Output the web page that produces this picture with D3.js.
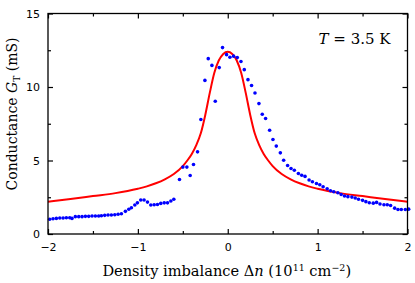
<!DOCTYPE html>
<html>
<head>
<meta charset="utf-8">
<script src="https://cdn.jsdelivr.net/npm/d3@7"></script>
<style>
  body { margin: 0; background: #fff; }
  svg { display: block; }
  .tick text { font-family: "DejaVu Sans", sans-serif; font-size: 11px; fill: #000; }
  .title { font-family: "DejaVu Serif", serif; font-size: 14px; fill: #000; }
</style>
</head>
<body>
<svg id="chart" width="415" height="283"></svg>
<script>
  // measured points (density imbalance, conductance)
  var dataX = [-1.981, -1.944, -1.907, -1.869, -1.832, -1.796, -1.758, -1.733, -1.696, -1.658,
    -1.621, -1.584, -1.547, -1.510, -1.473, -1.436, -1.406, -1.369, -1.332, -1.295,
    -1.257, -1.220, -1.183, -1.139, -1.101, -1.072, -1.034, -1.005, -0.968, -0.931,
    -0.893, -0.856, -0.819, -0.782, -0.745, -0.707, -0.670, -0.633, -0.600, -0.537,
    -0.499, -0.455, -0.418, -0.381, -0.336, -0.299, -0.254, -0.217, -0.176, -0.139,
    -0.095, -0.058, -0.013, 0.024, 0.065, 0.106, 0.147, 0.184, 0.225, 0.265,
    0.303, 0.347, 0.384, 0.421, 0.466, 0.503, 0.540, 0.585, 0.622, 0.666,
    0.704, 0.741, 0.786, 0.823, 0.860, 0.905, 0.942, 0.987, 1.024, 1.061,
    1.106, 1.143, 1.180, 1.225, 1.262, 1.299, 1.337, 1.381, 1.418, 1.455,
    1.500, 1.537, 1.575, 1.619, 1.656, 1.694, 1.738, 1.775, 1.812, 1.857,
    1.894, 1.931, 1.976, 2.013];
  var dataG = [1.00, 1.04, 1.06, 1.09, 1.09, 1.11, 1.11, 1.06, 1.18, 1.18,
    1.18, 1.20, 1.20, 1.22, 1.22, 1.22, 1.24, 1.27, 1.29, 1.29,
    1.31, 1.34, 1.38, 1.54, 1.68, 1.79, 1.97, 2.12, 2.31, 2.31,
    2.17, 1.97, 1.99, 2.01, 2.08, 2.12, 2.12, 2.25, 2.36, 3.71,
    4.55, 4.55, 3.98, 4.73, 5.59, 7.79, 10.45, 11.93, 11.47, 9.03,
    11.32, 12.68, 12.20, 12.02, 12.10, 12.00, 11.73, 11.18, 10.50, 10.10,
    9.59, 8.87, 8.15, 7.86, 7.06, 6.43, 5.98, 5.52, 5.02, 4.66,
    4.46, 4.34, 4.12, 4.00, 3.92, 3.67, 3.55, 3.44, 3.35, 3.21,
    3.08, 2.94, 2.87, 2.81, 2.69, 2.58, 2.54, 2.51, 2.45, 2.36,
    2.29, 2.20, 2.13, 2.10, 2.15, 2.04, 1.99, 1.99, 1.94, 1.76,
    1.67, 1.67, 1.67, 1.69];

  // fit curve
  var fitX = [-2, -1.75, -1.5, -1.25, -1, -0.9, -0.8, -0.7, -0.6, -0.5, -0.45, -0.4, -0.35, -0.3, -0.25,
    -0.2, -0.15, -0.1, -0.05, 0, 0.05, 0.1, 0.15, 0.2, 0.25, 0.3, 0.35, 0.4, 0.45, 0.5,
    0.6, 0.7, 0.8, 0.9, 1, 1.25, 1.5, 1.75, 2];
  var fitG = [2.19, 2.38, 2.58, 2.78, 3.08, 3.24, 3.45, 3.72, 4.08, 4.62, 5.0, 5.45, 6.05, 6.85, 8.1,
    9.6, 10.95, 11.8, 12.25, 12.4, 12.25, 11.8, 10.95, 9.6, 8.1, 6.85, 6.05, 5.45, 5.0, 4.62,
    4.08, 3.72, 3.45, 3.24, 3.08, 2.78, 2.58, 2.38, 2.19];

  var xTicks = [-2, -1, 0, 1, 2];
  var xMinor = [-1.5, -0.5, 0.5, 1.5];
  var yTicks = [0, 5, 10, 15];
  var yMinor = [2.5, 7.5, 12.5];

  var margin = {top: 13.5, right: 7.5, bottom: 49, left: 48};
  var svg = d3.select("#chart");
  var width = 415 - margin.left - margin.right,
    height = 283 - margin.top - margin.bottom;

  var x = d3.scaleLinear().domain([-2, 2]).range([0, width]);
  var y = d3.scaleLinear().domain([0, 15]).range([height, 0]);

  var g = svg.append("g").attr("transform", "translate(" + margin.left + "," + margin.top + ")");

  g.append("defs").append("clipPath").attr("id", "clip")
    .append("rect").attr("width", width).attr("height", height);

  // fit line
  var line = d3.line()
    .x(function(d, i) { return x(fitX[i]); })
    .y(function(d, i) { return y(fitG[i]); })
    .curve(d3.curveMonotoneX);

  g.append("path").datum(fitX).attr("d", line)
    .attr("clip-path", "url(#clip)")
    .attr("fill", "none").attr("stroke", "#ff0000").attr("stroke-width", 2);

  // points
  g.selectAll("circle.pt").data(dataX).enter().append("circle")
    .attr("class", "pt")
    .attr("cx", function(d) { return x(d); })
    .attr("cy", function(d, i) { return y(dataG[i]); })
    .attr("r", 1.8)
    .attr("fill", "#0000ff");

  // axes, ticks pointing inward
  function axisGroup(axis, tr) {
    var a = g.append("g").attr("transform", tr).call(axis);
    a.select(".domain").remove();
    a.selectAll(".tick line").attr("stroke", "#000").attr("stroke-width", 1.2);
    return a;
  }

  axisGroup(d3.axisBottom(x).tickValues(xTicks).tickSizeInner(-5).tickSizeOuter(0).tickPadding(9)
    .tickFormat(d3.format("d")), "translate(0," + height + ")");
  axisGroup(d3.axisBottom(x).tickValues(xMinor).tickSizeInner(-3).tickSizeOuter(0).tickFormat(""),
    "translate(0," + height + ")");
  axisGroup(d3.axisTop(x).tickValues(xTicks).tickSizeInner(-5).tickSizeOuter(0).tickFormat(""), "translate(0,0)");
  axisGroup(d3.axisTop(x).tickValues(xMinor).tickSizeInner(-3).tickSizeOuter(0).tickFormat(""), "translate(0,0)");

  axisGroup(d3.axisLeft(y).tickValues(yTicks).tickSizeInner(-5).tickSizeOuter(0).tickPadding(8)
    .tickFormat(d3.format("d")), "translate(0,0)");
  axisGroup(d3.axisLeft(y).tickValues(yMinor).tickSizeInner(-3).tickSizeOuter(0).tickFormat(""), "translate(0,0)");
  axisGroup(d3.axisRight(y).tickValues(yTicks).tickSizeInner(-5).tickSizeOuter(0).tickFormat(""),
    "translate(" + width + ",0)");
  axisGroup(d3.axisRight(y).tickValues(yMinor).tickSizeInner(-3).tickSizeOuter(0).tickFormat(""),
    "translate(" + width + ",0)");

  g.append("rect").attr("width", width).attr("height", height)
    .attr("fill", "none").attr("stroke", "#000").attr("stroke-width", 1.3);

  // temperature label
  var tl = g.append("text").attr("class", "title").attr("x", width - 17).attr("y", 30)
    .attr("text-anchor", "end").style("font-size", "15px");
  tl.append("tspan").style("font-style", "italic").text("T");
  tl.append("tspan").text(" = 3.5 K");

  // x title
  var xt = svg.append("text").attr("class", "title").style("font-size", "14.6px")
    .attr("x", margin.left + width / 2 - 1).attr("y", 276).attr("text-anchor", "middle");
  xt.append("tspan").text("Density imbalance Δ");
  xt.append("tspan").style("font-style", "italic").text("n");
  xt.append("tspan").text(" (10");
  xt.append("tspan").attr("dy", -5).style("font-size", "9.5px").text("11");
  xt.append("tspan").attr("dy", 5).text(" cm");
  xt.append("tspan").attr("dy", -5).style("font-size", "9.5px").text("−2");
  xt.append("tspan").attr("dy", 5).text(")");

  // y title
  var yt = svg.append("text").attr("class", "title")
    .attr("transform", "translate(17,114) rotate(-90)")
    .attr("text-anchor", "middle");
  yt.append("tspan").text("Conductance ");
  yt.append("tspan").style("font-style", "italic").text("G");
  yt.append("tspan").attr("dy", 3).style("font-size", "9px").text("T");
  yt.append("tspan").attr("dy", -3).text(" (mS)");
</script>
</body>
</html>
